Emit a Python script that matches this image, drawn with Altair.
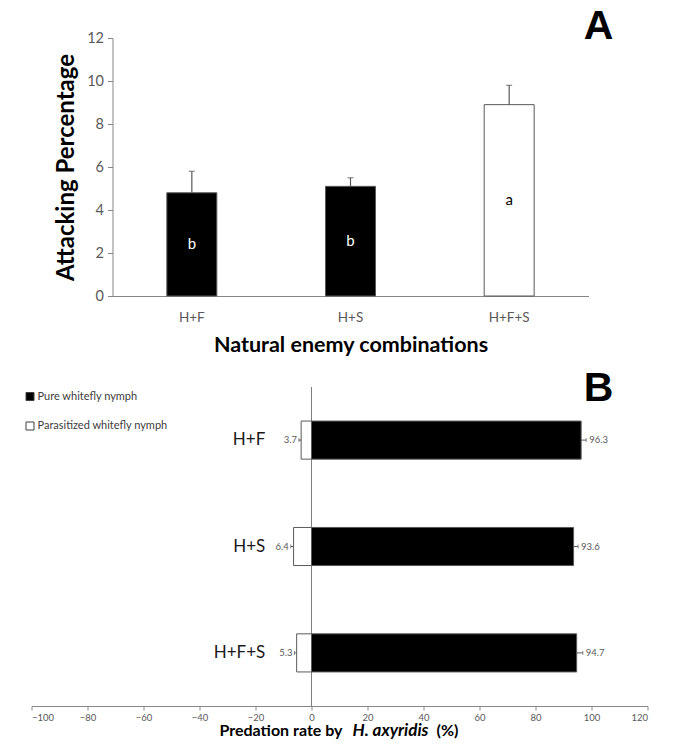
import altair as alt
import pandas as pd

# ---------- data ----------
combos = ["H+F", "H+S", "H+F+S"]

# Panel A: attacking percentage
attack_mean = [4.8, 5.1, 8.9]
attack_se = [1.0, 0.4, 0.9]
attack_letters = ["b", "b", "a"]

# Panel B: predation rate by H. axyridis (%)
series_names = ["Pure whitefly nymph", "Parasitized  whitefly nymph"]
pure_rate = [96.3, 93.6, 94.7]
pure_err = [1.8, 1.6, 2.2]
para_rate = [3.7, 6.4, 5.3]
para_err = [0.8, 1.0, 0.8]

x_ticks_b = [-100, -80, -60, -40, -20, 0, 20, 40, 60, 80, 100, 120]
y_ticks_a = [0, 2, 4, 6, 8, 10, 12]

FONT = "Lato"
GRAY_TXT = "#595959"
GRAY_LINE = "#868686"
HB = 319  # panel B plot height

# ---------- panel A ----------
dfA = pd.DataFrame({
    "combo": combos,
    "mean": attack_mean,
    "upper": [m + s for m, s in zip(attack_mean, attack_se)],
    "mid": [m / 2 for m in attack_mean],
    "letter": attack_letters,
})

xA = alt.X("combo:N", sort=combos,
           scale=alt.Scale(paddingInner=0.685, paddingOuter=0.3425),
           axis=alt.Axis(title="Natural enemy combinations", labelAngle=0, ticks=False,
                         domainColor=GRAY_LINE, labelColor=GRAY_TXT, labelFontSize=13.5,
                         labelPadding=14, titleFontSize=21.5, titleFontWeight="bold",
                         titlePadding=11, titleColor="black", labelFont=FONT, titleFont=FONT))
yA_axis = alt.Axis(values=y_ticks_a, title="Attacking Percentage", grid=False, tickSize=5,
                   domainColor=GRAY_LINE, tickColor=GRAY_LINE, labelColor=GRAY_TXT,
                   labelFontSize=14.5, labelFont=FONT, titleFont=FONT, titleFontSize=24,
                   titleFontWeight="bold", titleColor="black", titlePadding=8, labelPadding=4)

baseA = alt.Chart(dfA)
is_combo3 = alt.datum.combo == "H+F+S"

barsA = baseA.mark_bar(stroke="#595959", strokeWidth=1).encode(
    x=xA,
    y=alt.Y("mean:Q", scale=alt.Scale(domain=[0, 12], nice=False), axis=yA_axis),
    fill=alt.condition(is_combo3, alt.value("white"), alt.value("black")),
)
stemA = baseA.mark_rule(color="#595959", strokeWidth=1.2).encode(
    x=alt.X("combo:N", sort=combos), y="mean:Q", y2="upper:Q")
capA = baseA.mark_tick(color="#595959", size=6, thickness=1.2).encode(
    x=alt.X("combo:N", sort=combos), y="upper:Q")
lettersA = baseA.mark_text(fontSize=15, font=FONT, baseline="middle").encode(
    x=alt.X("combo:N", sort=combos), y="mid:Q", text="letter:N",
    color=alt.condition(is_combo3, alt.value("black"), alt.value("white")))
labelA = alt.Chart(pd.DataFrame({"t": ["A"]})).mark_text(
    fontSize=41, fontWeight="bold", font="Liberation Sans", baseline="top", align="center",
    color="black").encode(text="t:N", x=alt.value(486), y=alt.value(-31))

panelA = alt.layer(barsA, stemA, capA, lettersA, labelA).properties(width=476, height=258)

# ---------- panel B ----------
rows = []
for c, v, e in zip(combos, pure_rate, pure_err):
    rows.append({"combo": c, "series": series_names[0], "value": v, "end": v + e,
                 "label": f"{v}", "side": "pos"})
for c, v, e in zip(combos, para_rate, para_err):
    rows.append({"combo": c, "series": series_names[1], "value": -v, "end": -(v + e),
                 "label": f"{v}", "side": "neg"})
dfB = pd.DataFrame(rows)

xB_scale = alt.Scale(domain=[-100, 120], range=[-81, 535], nice=False, zero=False)
yB = alt.Y("combo:N", sort=combos,
           scale=alt.Scale(paddingInner=0.642, paddingOuter=0.32), axis=None)

baseB = alt.Chart(dfB)
barsB = baseB.mark_bar(stroke="#595959", strokeWidth=1).encode(
    x=alt.X("value:Q", scale=xB_scale,
            axis=alt.Axis(values=x_ticks_b, title=None, grid=False, tickSize=4,
                          labelFontSize=9.5, labelColor=GRAY_TXT, labelFont=FONT,
                          domainColor=GRAY_LINE, tickColor=GRAY_LINE, labelPadding=2.5)),
    x2=alt.datum(0),
    y=yB,
    fill=alt.Color("series:N",
                   scale=alt.Scale(domain=series_names, range=["black", "white"]),
                   legend=alt.Legend(orient="none", legendX=-88, legendY=353, title=None,
                                     symbolType="square", symbolSize=64,
                                     symbolStrokeColor="#404040", symbolStrokeWidth=1,
                                     labelFontSize=11, labelColor="#404040", labelFont=FONT,
                                     rowPadding=16.5, labelOffset=2)),
)
stemB = baseB.mark_rule(color="#595959", strokeWidth=1).encode(
    x=alt.X("value:Q", scale=xB_scale), x2="end:Q", y=yB)
capB = baseB.mark_tick(color="#595959", size=4, thickness=1).encode(
    x=alt.X("end:Q", scale=xB_scale), y=yB)
txtPos = baseB.transform_filter(alt.datum.side == "pos").mark_text(
    align="left", dx=3, fontSize=9.5, font=FONT, color=GRAY_TXT).encode(
    x=alt.X("end:Q", scale=xB_scale), y=yB, text="label:N")
txtNeg = baseB.transform_filter(alt.datum.side == "neg").mark_text(
    align="right", dx=-2, fontSize=9.5, font=FONT, color=GRAY_TXT).encode(
    x=alt.X("end:Q", scale=xB_scale), y=yB, text="label:N")

catB = alt.Chart(pd.DataFrame({"combo": combos})).transform_calculate(pos="-16.5").mark_text(
    align="right", fontSize=17, font=FONT, color="#1a1a1a").encode(
    x=alt.X("pos:Q", scale=xB_scale), y=yB, text="combo:N")

zeroB = alt.Chart(pd.DataFrame({"z": [0]})).mark_rule(color="#7f7f7f", strokeWidth=1).encode(
    x=alt.X("z:Q", scale=xB_scale), y=alt.value(0), y2=alt.value(HB))

labelB = alt.Chart(pd.DataFrame({"t": ["B"]})).mark_text(
    fontSize=41, fontWeight="bold", font="Liberation Sans", baseline="top", align="center",
    color="black").encode(text="t:N", x=alt.value(486), y=alt.value(-18))

title_parts = pd.DataFrame({"t": ["Predation rate by", "H. axyridis", "(%)"]})
TY = 344
t1 = alt.Chart(title_parts).transform_filter(alt.datum.t == "Predation rate by").mark_text(
    align="right", baseline="middle", fontSize=16, fontWeight="bold", font=FONT,
    color="black").encode(text="t:N", x=alt.value(230), y=alt.value(TY))
t2 = alt.Chart(title_parts).transform_filter(alt.datum.t == "H. axyridis").mark_text(
    align="center", baseline="middle", fontSize=17, fontWeight="bold", fontStyle="italic",
    font=FONT, color="black").encode(text="t:N", x=alt.value(278), y=alt.value(TY))
t3 = alt.Chart(title_parts).transform_filter(alt.datum.t == "(%)").mark_text(
    align="left", baseline="middle", fontSize=16, fontWeight="bold", font=FONT,
    color="black").encode(text="t:N", x=alt.value(324), y=alt.value(TY))

panelB = alt.layer(zeroB, barsB, stemB, capB, txtPos, txtNeg, catB, labelB, t1, t2, t3
                   ).properties(width=535, height=HB)

chart = alt.vconcat(panelA, panelB, spacing=12).properties(
    padding={"left": 16.5, "top": -2, "right": -60, "bottom": 0}
).configure_view(stroke=None)

chart.save("out.html", embed_options={"renderer": "svg", "actions": False})
